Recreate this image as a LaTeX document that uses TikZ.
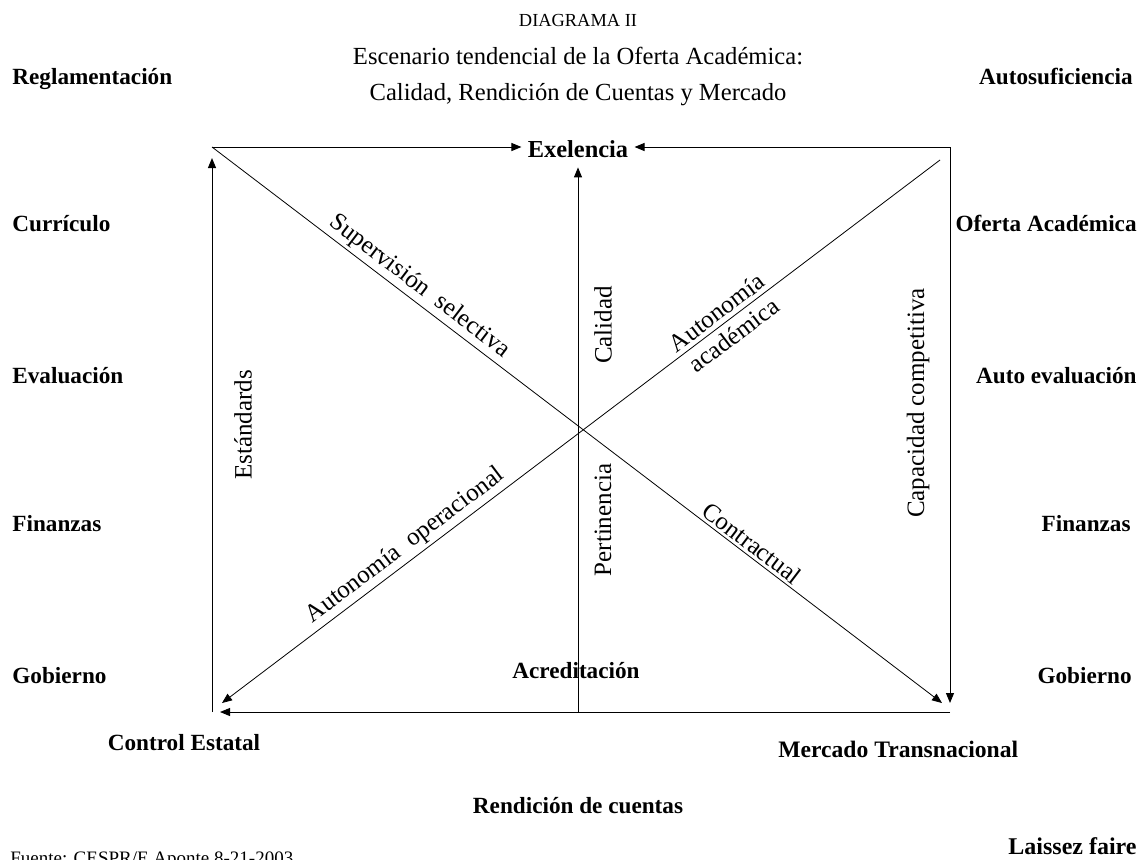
\documentclass[tikz,border=0pt]{standalone}
\usepackage{fontspec}
\setmainfont{Liberation Serif}
\usetikzlibrary{arrows.meta}

\begin{document}
\begin{tikzpicture}[
  x=0.5pt, y=-0.5pt,
  side/.style  = {font=\fontsize{11.6}{14}\selectfont\bfseries, inner sep=0pt,
                  text height=8pt, text depth=2.5pt},
  title/.style = {font=\fontsize{12.3}{14}\selectfont, inner sep=0pt},
  axis/.style  = {font=\fontsize{12.5}{15}\selectfont, rotate=90, inner sep=0pt},
  slant/.style = {font=\fontsize{12.5}{15}\selectfont, sloped, inner sep=1.5pt},
  arrow/.style = {-{Triangle[length=5pt,width=4pt]}, line width=0.5pt},
  diag/.style  = {line width=0.4pt}
]
  \useasboundingbox (0,0) rectangle (1141,859);

  % titles
  \node[title, font=\fontsize{9.2}{11}\selectfont] (dia) at (578,20) {DIAGRAMA II};
  \node[title] (esc) at (578,56) {Escenario tendencial de la Oferta Académica:};
  \node[title] (cal) at (578,95) {Calidad, Rendición de Cuentas y Mercado};

  % left column
  \node[side, anchor=west] (regl)  at (12,79)  {Reglamentación};
  \node[side, anchor=west] (curr)  at (12,226) {Currículo};
  \node[side, anchor=west] (eval)  at (12,378) {Evaluación};
  \node[side, anchor=west] (finl)  at (12,526) {Finanzas};
  \node[side, anchor=west] (gobl)  at (12,678) {Gobierno};
  % right column
  \node[side, anchor=east] (auto)  at (1133,79)  {Autosuficiencia};
  \node[side, anchor=east] (ofer)  at (1137,226) {Oferta Académica};
  \node[side, anchor=east] (aeval) at (1137,378) {Auto evaluación};
  \node[side, anchor=east] (finr)  at (1131,526) {Finanzas};
  \node[side, anchor=east] (gobr)  at (1132,678) {Gobierno};

  % bottom
  \node[side] (ctrl) at (184,745) {Control Estatal};
  \node[side, anchor=west, font=\fontsize{11.8}{14}\selectfont\bfseries] (merc) at (778,752) {Mercado Transnacional};
  \node[side] (rend) at (578,808) {Rendición de cuentas};
  \node[side, anchor=east, font=\fontsize{12}{14}\selectfont\bfseries] (lais) at (1137,849) {Laissez faire};
  \node[title, anchor=base west, font=\fontsize{9.5}{11}\selectfont] (fte) at (10,864)
    {Fuente: CESPR/E.Aponte 8-21-2003};

  % frame
  \coordinate (tl) at (212,147);
  \coordinate (tr) at (950,147);
  \coordinate (bl) at (212,712);
  \coordinate (br) at (950,712);
  \coordinate (ltop) at (212,158);
  \coordinate (lend) at (220,712);
  \coordinate (rend2) at (950,703);
  \coordinate (mbot) at (578,712);
  \coordinate (d1) at (942,703);
  \coordinate (d2a) at (222,703);
  \coordinate (d2b) at (940,160);

  \node[side, font=\fontsize{12.2}{14}\selectfont\bfseries, inner sep=3pt,
        text height=12pt, text depth=2pt] (exel) at (578,147) {Exelencia};

  \draw[arrow] (tl) -- (exel.west);
  \draw[arrow] (tr) -- (exel.east);
  \draw[arrow] (mbot) -- (exel.south);
  \draw[arrow] (bl) -- (ltop);
  \draw[arrow] (br) -- (lend);
  \draw[arrow] (tr) -- (rend2);

  % diagonals
  \draw[arrow, diag] (tl) --
    node[slant, above, pos=.272] {Supervisión\ \ selectiva}
    node[slant, above, pos=.73] {Contractual} (d1);
  \draw[arrow, diag, {Triangle[length=5pt,width=4pt]}-] (d2a) --
    node[slant, above, pos=.268] {Autonomía\ \ operacional}
    node[slant, above, pos=.70, inner sep=2pt] {Autonomía}
    node[slant, below, pos=.70, inner sep=3pt] {académica} (d2b);

  % axis labels
  \node[axis] (calid)  at (603,325) {Calidad};
  \node[axis] (pert)   at (603,520) {Pertinencia};
  \node[axis] (estand) at (243,425) {Estándards};
  \node[axis] (capac)  at (918,403) {Capacidad competitiva};
  \node[side] (acred)  at (576,673) {Acreditación};
\end{tikzpicture}
\end{document}
